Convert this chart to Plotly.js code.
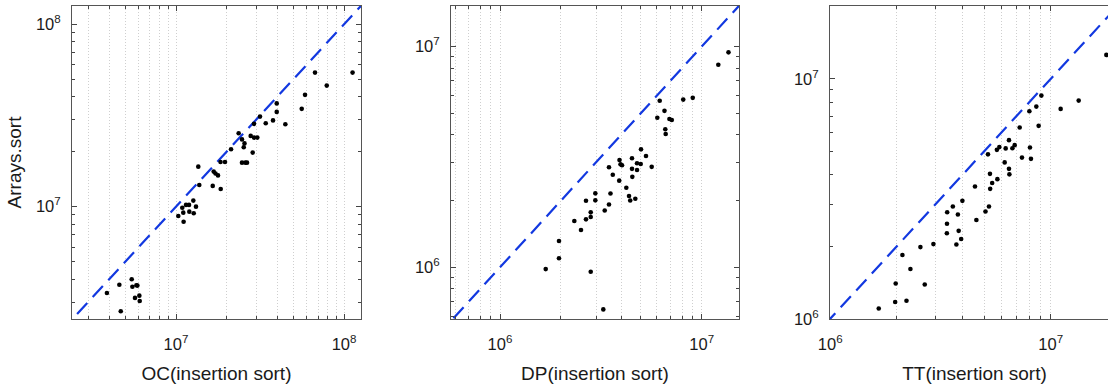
<!DOCTYPE html>
<html><head><meta charset="utf-8">
<script src="https://cdn.plot.ly/plotly-3.0.1.min.js"></script>
<style>
html,body{margin:0;padding:0;overflow:hidden;background:#fff;width:1108px;height:389px}
#chart{width:1130px;height:389px}
</style>
</head><body><div id="chart"></div>
<script>
// Panel 1: OC(insertion sort) vs Arrays.sort
const ocX = [3.88e6, 4.60e6, 4.69e6, 5.45e6, 5.50e6, 5.81e6, 5.89e6, 6.05e6, 5.70e6, 6.08e6,
  1.032e7, 1.09e7, 1.105e7, 1.11e7, 1.147e7, 1.195e7, 1.2e7, 1.268e7, 1.275e7, 1.315e7,
  1.357e7, 1.376e7, 1.654e7, 1.676e7, 1.718e7, 1.778e7, 1.845e7, 1.841e7, 1.957e7, 2.126e7,
  2.36e7, 2.47e7, 2.557e7, 2.53e7, 2.47e7, 2.585e7, 2.646e7, 2.783e7, 2.912e7, 3.048e7,
  2.86e7, 2.912e7, 3.162e7, 3.42e7, 3.779e7, 3.976e7, 3.976e7, 4.474e7, 5.6e7, 5.86e7,
  6.72e7, 7.89e7, 1.124e8];
const ocY = [3.36e6, 3.73e6, 2.67e6, 4.0e6, 3.64e6, 3.71e6, 3.69e6, 3.25e6, 3.16e6, 3.04e6,
  8.89e6, 9.87e6, 9.27e6, 8.27e6, 1.022e7, 1.022e7, 9.39e6, 1.079e7, 9.2e6, 1.0e7,
  1.657e7, 1.315e7, 1.299e7, 1.556e7, 1.52e7, 1.483e7, 1.25e7, 1.758e7, 1.758e7, 2.065e7,
  2.527e7, 2.337e7, 2.222e7, 2.118e7, 1.743e7, 1.743e7, 1.743e7, 2.443e7, 2.39e7, 2.39e7,
  1.978e7, 2.843e7, 3.117e7, 2.868e7, 2.971e7, 3.682e7, 3.307e7, 2.831e7, 3.436e7, 4.1e7,
  5.43e7, 4.61e7, 5.43e7];

// Panel 2: DP(insertion sort) vs Arrays.sort
const dpX = [1.685e6, 1.961e6, 1.961e6, 2.336e6, 2.521e6, 2.669e6, 2.669e6, 2.817e6, 2.817e6, 2.817e6,
  2.969e6, 2.969e6, 3.252e6, 3.305e6, 3.47e6, 3.47e6, 3.53e6, 3.624e6, 3.9e6, 3.913e6,
  3.958e6, 4.027e6, 4.229e6, 4.362e6, 4.422e6, 4.513e6, 4.513e6, 4.529e6, 4.687e6, 4.779e6,
  4.779e6, 4.985e6, 5.002e6, 5.295e6, 5.651e6, 6.025e6, 6.192e6, 6.54e6, 6.6e6, 6.63e6,
  6.92e6, 7.11e6, 8.1e6, 9.03e6, 1.209e7, 1.358e7];
const dpY = [9.82e5, 1.316e6, 1.099e6, 1.621e6, 1.476e6, 1.65e6, 2.004e6, 1.775e6, 1.69e6, 9.55e5,
  2.164e6, 2.012e6, 6.45e5, 1.809e6, 2.842e6, 1.925e6, 2.16e6, 2.628e6, 2.47e6, 3.063e6,
  2.928e6, 2.9e6, 2.295e6, 2.104e6, 2.008e6, 3.121e6, 2.794e6, 2.571e6, 2.046e6, 2.962e6,
  2.76e6, 2.938e6, 3.425e6, 3.194e6, 2.853e6, 4.758e6, 5.681e6, 5.118e6, 4.221e6, 4.018e6,
  4.699e6, 4.65e6, 5.753e6, 5.861e6, 8.27e6, 9.42e6];

// Panel 3: TT(insertion sort) vs Arrays.sort
const ttX = [1.66e6, 1.971e6, 1.982e6, 2.218e6, 2.311e6, 2.126e6, 2.684e6, 2.565e6, 2.938e6, 3.382e6,
  3.386e6, 3.393e6, 3.6e6, 3.735e6, 3.794e6, 3.826e6, 3.927e6, 3.977e6, 4.536e6, 4.603e6,
  5.062e6, 5.25e6, 5.316e6, 5.305e6, 5.195e6, 5.429e6, 5.732e6, 5.702e6, 5.852e6, 6.185e6,
  6.25e6, 6.47e6, 6.497e6, 6.47e6, 6.705e6, 6.867e6, 7.235e6, 7.41e6, 8.006e6, 8.056e6,
  8.14e6, 8.61e6, 8.82e6, 9.075e6, 1.11e7, 1.34e7, 1.789e7];
const ttY = [1.104e6, 1.174e6, 1.402e6, 1.189e6, 1.612e6, 1.845e6, 1.39e6, 1.99e6, 2.048e6, 2.272e6,
  2.488e6, 2.779e6, 2.938e6, 2.04e6, 2.72e6, 2.326e6, 2.151e6, 3.102e6, 3.558e6, 2.58e6,
  2.8e6, 2.938e6, 3.48e6, 4.02e6, 4.846e6, 3.679e6, 3.82e6, 5.06e6, 5.197e6, 4.487e6,
  5.132e6, 4.217e6, 4.0e6, 5.554e6, 5.143e6, 5.294e6, 6.268e6, 4.699e6, 7.336e6, 5.173e6,
  4.642e6, 7.667e6, 6.371e6, 8.52e6, 7.5e6, 8.12e6, 1.259e7];

const xTitles = ['OC(insertion sort)', 'DP(insertion sort)', 'TT(insertion sort)'];
const yTitle = 'Arrays.sort';
const majorVals = [1e5, 1e6, 1e7, 1e8, 1e9];
const majorText = ['10<sup>5</sup>', '10<sup>6</sup>', '10<sup>7</sup>', '10<sup>8</sup>', '10<sup>9</sup>'];
const diagEnds = [1e4, 1e10];

const W = 1130;
const FONT = 'Liberation Sans, Arial, Helvetica, sans-serif';
const minorVals = [];
for (let e = 4; e <= 9; e++) for (let m = 2; m <= 9; m++) minorVals.push(m * Math.pow(10, e));

const panels = [
  {x: ocX, y: ocY, dom: [72, 361], xr: [6.381, 8.101], yr: [6.384, 8.1]},
  {x: dpX, y: dpY, dom: [451, 739], xr: [5.757, 7.185], yr: [5.766, 7.184]},
  {x: ttX, y: ttY, dom: [830, 1119], xr: [5.999, 7.31], yr: [5.999, 7.304]}
];

const data = [];
const layout = {
  width: W, height: 389,
  margin: {l: 0, r: 0, t: 6, b: 70},
  paper_bgcolor: '#fff', plot_bgcolor: '#fff',
  showlegend: false,
  font: {family: FONT, color: '#1a1a1a'}
};

const GRID = '#cfcfcf';
panels.forEach((p, i) => {
  const sfx = i === 0 ? '' : String(i + 1);
  const xa = 'x' + sfx, ya = 'y' + sfx;
  data.push({
    x: diagEnds, y: diagEnds, xaxis: xa, yaxis: ya, mode: 'lines',
    line: {color: '#1238e0', width: 2.2, dash: '15px,8px'}, hoverinfo: 'skip'
  });
  data.push({
    x: p.x, y: p.y, xaxis: xa, yaxis: ya, mode: 'markers',
    marker: {color: '#000', size: 4.6}, cliponaxis: true
  });
  const common = {
    type: 'log', tickmode: 'array', tickvals: majorVals, ticktext: majorText,
    ticks: 'inside', ticklen: 5, tickcolor: '#444', tickwidth: 1,
    showline: true, linecolor: '#555', linewidth: 1, mirror: 'allticks',
    zeroline: false, fixedrange: true,
    tickfont: {family: FONT, size: 16.5, color: '#1a1a1a'}
  };
  layout['xaxis' + sfx] = Object.assign({}, common, {
    domain: [p.dom[0] / W, p.dom[1] / W], range: p.xr, anchor: ya,
    showgrid: true, gridcolor: GRID, griddash: '1px,2px', gridwidth: 1,
    ticklabelstandoff: 10,
    minor: {tickmode: 'array', tickvals: minorVals, ticks: 'inside', ticklen: 3, tickcolor: '#444',
            showgrid: true, gridcolor: GRID, griddash: '1px,2px', gridwidth: 1},
    title: {text: xTitles[i], font: {family: FONT, size: 19, color: '#1a1a1a'}, standoff: 14}
  });
  layout['yaxis' + sfx] = Object.assign({}, common, {
    domain: [0, 1], range: p.yr, anchor: xa,
    showgrid: false, ticklabelstandoff: 7,
    minor: {tickmode: 'array', tickvals: minorVals, ticks: 'inside', ticklen: 3, tickcolor: '#444', showgrid: false},
    title: i === 0 ? {text: yTitle, font: {family: FONT, size: 19, color: '#1a1a1a'}, standoff: 9} : {text: ''}
  });
});

Plotly.newPlot('chart', data, layout, {displayModeBar: false, staticPlot: true});
</script></body></html>
